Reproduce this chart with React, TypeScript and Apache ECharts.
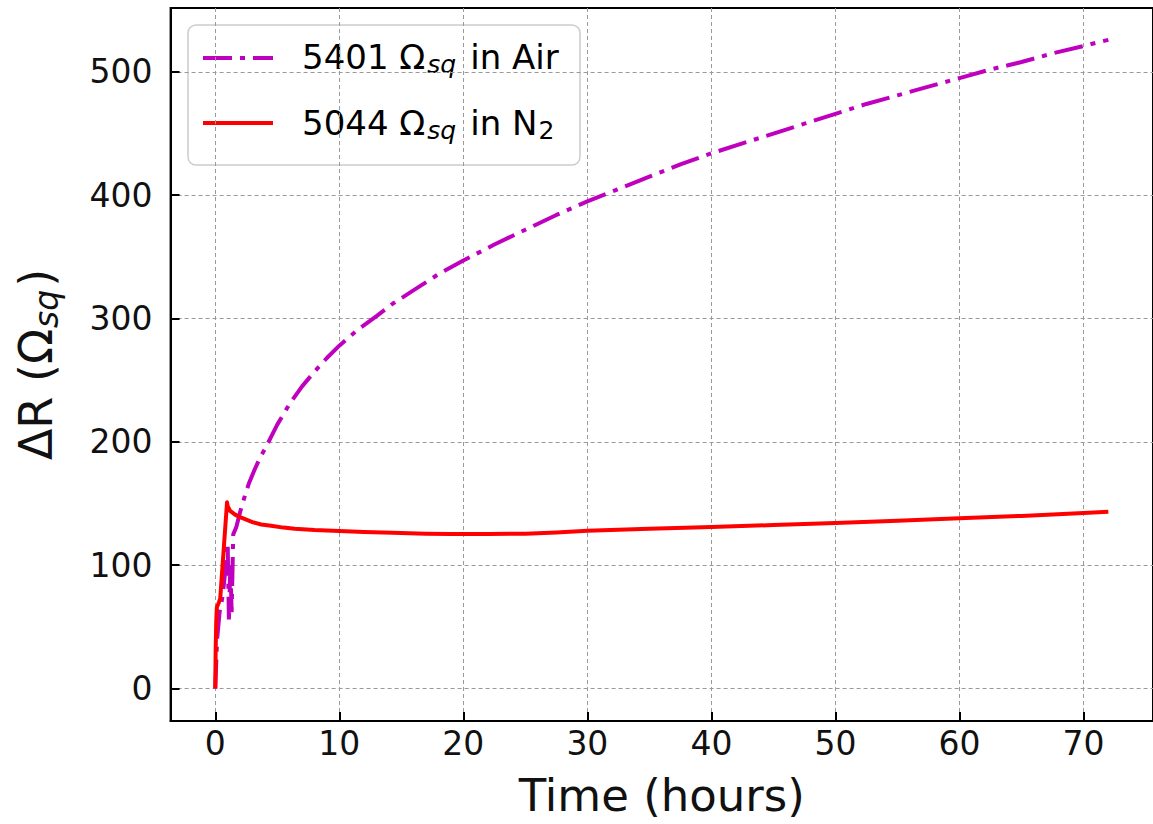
import React, { useEffect, useRef } from "react";
import * as echarts from "echarts";

// Time (hours) and ΔR (Ω_sq) for 5401 Ω_sq in Air
const airTime = [0, 0.15, 0.35, 0.6, 0.85, 1.0, 1.1, 1.22, 1.32, 1.45, 1.7, 2.0, 2.35, 2.7, 3.15, 3.6, 4.1, 4.5, 5, 6, 7, 8, 9, 10, 11.5, 13, 14.3, 16, 18, 20, 22.5, 25, 27.5, 30, 32.5, 35, 37.5, 40, 42.5, 45, 47.5, 50, 52.5, 55, 57.5, 60, 62.5, 65, 67.5, 70, 72];
const airDR = [0, 40, 62, 75, 100, 118, 56, 100, 62, 125, 131, 143, 155, 166, 177, 187, 196, 204, 214, 231, 245, 257, 268, 278, 291, 302, 312, 323, 336, 347, 360, 372, 384, 395, 405, 415, 425, 434, 442, 450, 458, 466, 474, 481, 488, 495, 502, 508, 515, 521, 526];

// Time (hours) and ΔR (Ω_sq) for 5044 Ω_sq in N2
const n2Time = [0, 0.03, 0.08, 0.13, 0.3, 0.4, 0.95, 1.0, 1.2, 1.6, 2, 3, 3.7, 4.5, 5.5, 6.4, 8, 10, 12, 14.3, 17, 19, 22, 25, 27.5, 30, 35, 40, 45, 50, 55, 60, 65, 70, 72];
const n2DR = [0, 30, 55, 66, 70, 73, 151, 148, 144, 141, 139, 135, 133, 132, 130.5, 129.5, 128.5, 127.7, 127, 126.3, 125.6, 125.3, 125.4, 125.6, 126.6, 128, 129.6, 131, 132.6, 134.2, 136, 138, 140, 142.3, 143.4];

const xTicks = [0, 10, 20, 30, 40, 50, 60, 70];
const yTicks = [0, 100, 200, 300, 400, 500];

const seriesNames = ["5401 Ω_sq in Air", "5044 Ω_sq in N2"];

const FONT = "DejaVu Sans";

export default function App() {
  const ref = useRef<HTMLDivElement>(null);
  useEffect(() => {
    if (!ref.current) return;
    const chart = echarts.init(ref.current, null, { renderer: "svg" });
    const airData = airTime.map((t, i) => [t, airDR[i]]);
    const n2Data = n2Time.map((t, i) => [t, n2DR[i]]);
    const richTxt = {
      n: { fontFamily: FONT, fontSize: 34, color: "#1a1a1a", lineHeight: 40, verticalAlign: "middle" },
      s: { fontFamily: FONT, fontSize: 25, fontStyle: "italic", color: "#1a1a1a", lineHeight: 40, verticalAlign: "bottom", padding: [0, 14, 0, 2] },
      d: { fontFamily: FONT, fontSize: 25, color: "#1a1a1a", lineHeight: 40, verticalAlign: "bottom", padding: [0, 0, 0, 1] },
    };
    const richName = {
      n: { fontFamily: FONT, fontSize: 46, color: "#111", lineHeight: 54, verticalAlign: "middle" },
      s: { fontFamily: FONT, fontSize: 33, fontStyle: "italic", color: "#111", lineHeight: 54, verticalAlign: "bottom", padding: [0, 3, 0, 1] },
    };
    const gridLine = { show: true, lineStyle: { color: "#9a9a9a", width: 1, type: [4, 3] } };
    chart.setOption({
      animation: false,
      backgroundColor: "#ffffff",
      grid: {
        left: 170.6,
        right: -4.8,
        top: 8,
        bottom: 103,
        show: true,
        borderColor: "#000",
        borderWidth: 2,
        backgroundColor: "transparent",
      },
      xAxis: {
        type: "value",
        min: -3.6,
        max: 75.6,
        name: "Time (hours)",
        nameLocation: "middle",
        nameGap: 52,
        nameTextStyle: { fontFamily: FONT, fontSize: 45, color: "#111" },
        axisLine: { show: true, onZero: false, lineStyle: { color: "#000", width: 2 } },
        axisTick: { show: true, inside: true, length: 9, customValues: xTicks, lineStyle: { color: "#000", width: 2 } },
        axisLabel: {
          margin: 6,
          fontFamily: FONT,
          fontSize: 33,
          color: "#111",
          customValues: xTicks,
        },
        splitLine: gridLine,
      },
      yAxis: {
        type: "value",
        min: -26.3,
        max: 551.8,
        name: "{n|ΔR (Ω}{s|sq}{n|)}",
        nameLocation: "middle",
        nameGap: 108,
        nameTextStyle: { rich: richName },
        axisLine: { show: true, onZero: false, lineStyle: { color: "#000", width: 2 } },
        axisTick: { show: true, inside: true, length: 9, customValues: yTicks, lineStyle: { color: "#000", width: 2 } },
        axisLabel: {
          margin: 18,
          fontFamily: FONT,
          fontSize: 33,
          color: "#111",
          customValues: yTicks,
        },
        splitLine: gridLine,
      },
      series: [
        {
          name: seriesNames[0],
          type: "line",
          data: airData,
          showSymbol: false,
          symbol: "none",
          lineStyle: { color: "#bf00bf", width: 4, type: [29, 8, 5, 8], cap: "butt" },
          z: 2,
        },
        {
          name: seriesNames[1],
          type: "line",
          data: n2Data,
          showSymbol: false,
          symbol: "none",
          lineStyle: { color: "#ff0000", width: 4, join: "round" },
          z: 3,
        },
      ],
      graphic: [
        {
          type: "group",
          z: 100,
          children: [
            {
              type: "rect",
              shape: { x: 188, y: 25, width: 392, height: 140, r: 8 },
              style: { fill: "rgba(255,255,255,0.85)", stroke: "#cccccc", lineWidth: 1.5 },
            },
            {
              type: "line",
              shape: { x1: 203, y1: 58, x2: 273, y2: 58 },
              style: { stroke: "#bf00bf", lineWidth: 4, lineDash: [29, 8, 5, 8], lineCap: "butt" },
            },
            {
              type: "line",
              shape: { x1: 203, y1: 123, x2: 273, y2: 123 },
              style: { stroke: "#ff0000", lineWidth: 4 },
            },
            {
              type: "text",
              x: 302,
              y: 57,
              style: {
                text: "{n|5401 Ω}{s|sq}{n|in Air}",
                rich: richTxt,
                verticalAlign: "middle",
                align: "left",
              },
            },
            {
              type: "text",
              x: 302,
              y: 123,
              style: {
                text: "{n|5044 Ω}{s|sq}{n|in N}{d|2}",
                rich: richTxt,
                verticalAlign: "middle",
                align: "left",
              },
            },
          ],
        },
      ],
    });
    return () => chart.dispose();
  }, []);
  return (
    <div
      ref={ref}
      style={{ position: "fixed", left: 0, top: 0, width: 1153, height: 824, background: "#fff" }}
    />
  );
}
